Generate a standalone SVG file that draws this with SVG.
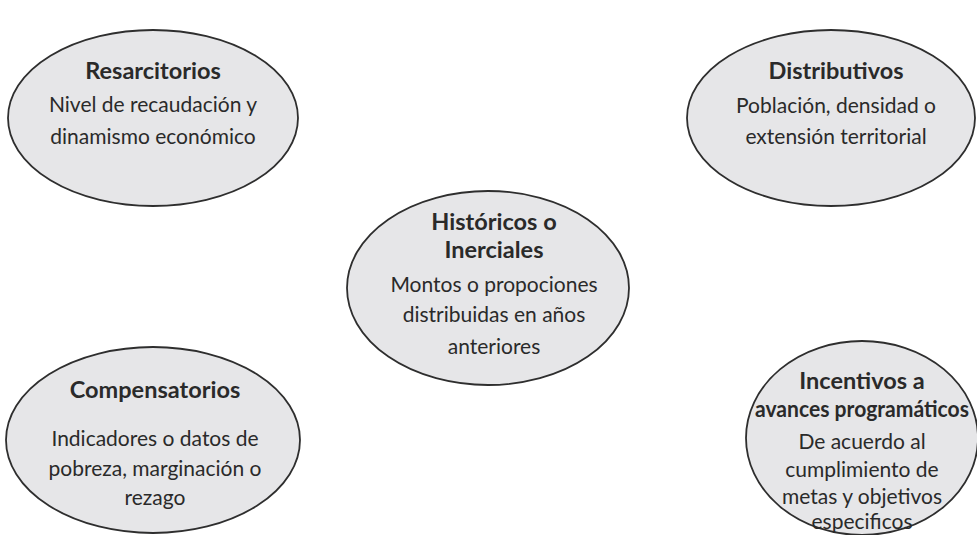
<svg xmlns="http://www.w3.org/2000/svg" width="977" height="535" viewBox="0 0 977 535">
<style>
.e{fill:#e6e6e8;stroke:#2e2e2e;stroke-width:1.8}
.t{font-family:Lato,"Open Sans",sans-serif;font-size:23.5px;font-weight:bold;fill:#2a2a2a;text-anchor:middle}
.b{font-family:Lato,"Open Sans",sans-serif;font-size:21px;fill:#2a2a2a;text-anchor:middle}
</style>
<rect width="977" height="535" fill="#ffffff"/>
<g id="connectors"></g>
<g id="resarcitorios">
<ellipse class="e" cx="153" cy="118" rx="145" ry="88"/>
<text class="t" x="153" y="79">Resarcitorios</text>
<text class="b" x="153" y="112">Nivel de recaudación y</text>
<text class="b" x="153" y="144">dinamismo económico</text>
</g>
<g id="distributivos">
<ellipse class="e" cx="831" cy="118" rx="144" ry="88"/>
<text class="t" x="836" y="79">Distributivos</text>
<text class="b" x="836" y="113">Población, densidad o</text>
<text class="b" x="836" y="144">extensión territorial</text>
</g>
<g id="historicos">
<ellipse class="e" cx="488" cy="288" rx="141" ry="97"/>
<text class="t" x="494" y="230">Históricos o</text>
<text class="t" x="494" y="258">Inerciales</text>
<text class="b" x="494" y="292">Montos o propociones</text>
<text class="b" x="494" y="322">distribuidas en años</text>
<text class="b" x="494" y="354">anteriores</text>
</g>
<g id="compensatorios">
<ellipse class="e" cx="153" cy="440" rx="147" ry="93"/>
<text class="t" x="155" y="398">Compensatorios</text>
<text class="b" x="155" y="446">Indicadores o datos de</text>
<text class="b" x="155" y="476">pobreza, marginación o</text>
<text class="b" x="155" y="505">rezago</text>
</g>
<g id="incentivos">
<ellipse class="e" cx="862" cy="438" rx="116" ry="97"/>
<text class="t" x="862" y="389">Incentivos a</text>
<text class="t" x="862" y="417" style="font-size:22px" textLength="214" lengthAdjust="spacingAndGlyphs">avances programáticos</text>
<text class="b" x="862" y="449">De acuerdo al</text>
<text class="b" x="862" y="477">cumplimiento de</text>
<text class="b" x="862" y="504">metas y objetivos</text>
<text class="b" x="862" y="529">especificos</text>
</g>
</svg>
